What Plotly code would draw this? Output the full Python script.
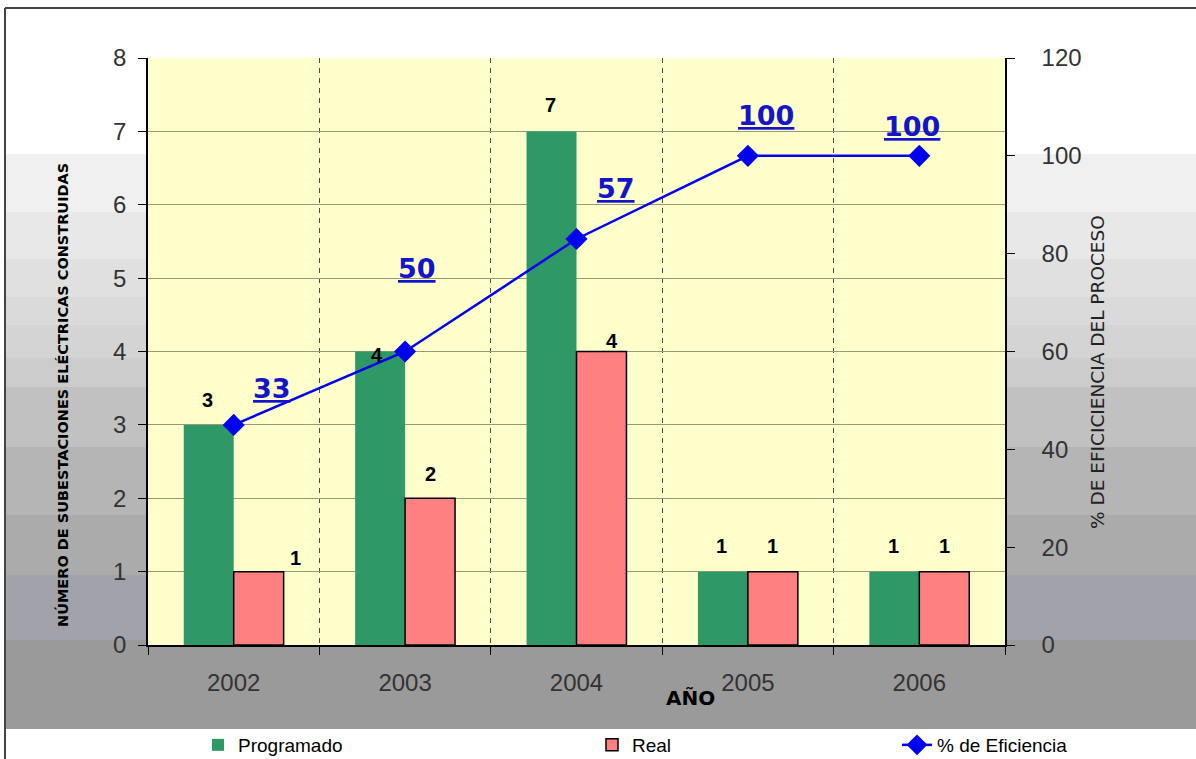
import plotly.graph_objects as go

# ---------------- data ----------------
years = ["2002", "2003", "2004", "2005", "2006"]
programado = [3, 4, 7, 1, 1]
real = [1, 2, 4, 1, 1]
eficiencia_plot = [45, 60, 83, 100, 100]          # plotted position of the line (right axis)
eficiencia_labels = ["33", "50", "57", "100", "100"]  # labels printed next to the points
left_ticks = [0, 1, 2, 3, 4, 5, 6, 7, 8]
right_ticks = [0, 20, 40, 60, 80, 100, 120]

# ---------------- layout helpers (positions/styles) ----------------
W, H = 1196, 759
L, R, T, B = 148, 191, 58, 114
PW, PH = W - L - R, H - T - B


def px(xp):
    return (xp - L) / PW


def py(yp):
    return (H - B - yp) / PH


GREEN = "#2E9966"
RED = "#FF8080"
BLUE = "#0000F0"
LBLUE = "#1414C8"
FONT = "Liberation Sans, Arial, sans-serif"
WIDEFONT = "DejaVu Sans, sans-serif"

# label placement (right-axis units / pixel shifts)
eff_label_y = [52.5, 77, 93.4, 108.3, 106]
eff_label_dx = [38, 12, 39, 18, -7]
green_dx = [0, -2, 0, 0, 0]
green_dy = [25, -3, 26, 26, 26]
red_dx = [37, 0, 10, 0, 0]
red_dy = [14, 24, 11, 26, 26]

fig = go.Figure()

fig.add_trace(go.Bar(
    x=years, y=programado, name="Programado",
    marker=dict(color=GREEN, line=dict(color=GREEN, width=0)),
    legend="legend", yaxis="y",
))
fig.add_trace(go.Bar(
    x=years, y=real, name="Real",
    marker=dict(color=RED, line=dict(color="black", width=1.5)),
    legend="legend2", yaxis="y",
))
fig.add_trace(go.Scatter(
    x=years, y=eficiencia_plot, name="% de Eficiencia",
    mode="lines+markers", yaxis="y2",
    line=dict(color=BLUE, width=2.5),
    marker=dict(symbol="diamond", size=17, color=BLUE),
    legend="legend3", cliponaxis=False,
))

# ---------------- background shapes ----------------
shapes = []
bands = [
    (154, 212, "#f0f0f0"), (212, 259, "#e8e8e8"), (259, 297, "#e0e0e0"),
    (297, 325, "#dadada"), (325, 358, "#d4d4d4"), (358, 387, "#cccccc"),
    (387, 447, "#c1c1c1"), (447, 515, "#b5b5b5"), (515, 575, "#ababab"),
    (575, 640, "#a2a2aa"), (640, 729, "#9a9a9a"),
]
for y0, y1, c in bands:
    shapes.append(dict(type="rect", xref="paper", yref="paper",
                       x0=px(6), x1=px(W + 2), y0=py(y1), y1=py(y0),
                       fillcolor=c, line=dict(width=0), layer="below"))
# plot area fill
shapes.append(dict(type="rect", xref="paper", yref="paper", x0=0, x1=1, y0=0, y1=1,
                   fillcolor="#FFFFCC", line=dict(width=0), layer="below"))
# legend white strip
shapes.append(dict(type="rect", xref="paper", yref="paper",
                   x0=px(77), x1=px(W + 2), y0=py(H + 2), y1=py(729),
                   fillcolor="white", line=dict(width=0), layer="below"))
# outer frame lines
shapes.append(dict(type="line", xref="paper", yref="paper",
                   x0=px(5), x1=px(5), y0=py(8), y1=py(H + 2),
                   line=dict(color="#444444", width=2), layer="below"))
shapes.append(dict(type="line", xref="paper", yref="paper",
                   x0=px(5), x1=px(W + 2), y0=py(8), y1=py(8),
                   line=dict(color="#444444", width=2), layer="below"))

# ---------------- annotations ----------------
ann = []
for i, yr in enumerate(years):
    # category axes: annotation x given as category index
    ann.append(dict(x=i, y=eff_label_y[i], xref="x", yref="y2",
                    text="<u>" + eficiencia_labels[i] + "</u>", showarrow=False,
                    xshift=eff_label_dx[i],
                    font=dict(family=WIDEFONT, size=27, color=LBLUE, weight="bold")))
    ann.append(dict(x=i, y=programado[i], xref="x", yref="y",
                    text=str(programado[i]), showarrow=False,
                    xshift=-26 + green_dx[i], yshift=green_dy[i],
                    font=dict(family=FONT, size=20, color="black", weight="bold")))
    ann.append(dict(x=i, y=real[i], xref="x", yref="y",
                    text=str(real[i]), showarrow=False,
                    xshift=25 + red_dx[i], yshift=red_dy[i],
                    font=dict(family=FONT, size=20, color="black", weight="bold")))

ann.append(dict(x=px(690), y=py(698), xref="paper", yref="paper", text="AÑO",
                xanchor="center", yanchor="middle",
                showarrow=False, font=dict(family=WIDEFONT, size=20, color="black", weight="bold")))
ann.append(dict(x=px(62), y=py(395), xref="paper", yref="paper",
                text="NÚMERO DE SUBESTACIONES ELÉCTRICAS CONSTRUIDAS", textangle=-90,
                xanchor="center", yanchor="middle",
                showarrow=False, font=dict(family=WIDEFONT, size=14.5, color="black", weight="bold")))
ann.append(dict(x=px(1097), y=py(372), xref="paper", yref="paper",
                text="% DE EFICICIENCIA DEL PROCESO", textangle=-90,
                xanchor="center", yanchor="middle",
                showarrow=False, font=dict(family=WIDEFONT, size=18.5, color="#222222")))

legend_common = dict(orientation="h", yanchor="middle", xanchor="left",
                     y=py(745), bgcolor="rgba(0,0,0,0)",
                     font=dict(family=FONT, size=19, color="black"))

fig.update_layout(
    width=W, height=H,
    margin=dict(l=L, r=R, t=T, b=B, autoexpand=False),
    paper_bgcolor="white", plot_bgcolor="rgba(0,0,0,0)",
    barmode="group", bargap=0.417, bargroupgap=0,
    font=dict(family=FONT),
    shapes=shapes, annotations=ann, showlegend=True,
    legend=dict(x=px(198), **legend_common),
    legend2=dict(x=px(592), **legend_common),
    legend3=dict(x=px(897), **legend_common),
    xaxis=dict(type="category", categoryorder="array", categoryarray=years,
               range=[-0.5, len(years) - 0.5], autorange=False,
               tickson="boundaries", ticks="outside", ticklen=8,
               tickcolor="black", showgrid=True, gridcolor="#4a4a4a", griddash="5px,5px",
               gridwidth=1, showline=True, linecolor="black", linewidth=1.5,
               tickfont=dict(family=FONT, size=24, color="#333333"), tickangle=0,
               ticklabelstandoff=15, fixedrange=True),
    yaxis=dict(range=[0, 8], autorange=False, tickvals=left_ticks, ticks="outside", ticklen=8,
               tickcolor="black", showgrid=True, gridcolor="#999977", gridwidth=1,
               showline=True, linecolor="black", linewidth=1.5, zeroline=False,
               tickfont=dict(family=FONT, size=24, color="#333333"),
               ticklabelstandoff=7),
    yaxis2=dict(range=[0, 120], autorange=False, tickvals=right_ticks, overlaying="y", side="right",
                ticks="outside", ticklen=8, tickcolor="black", showgrid=False,
                showline=True, linecolor="black", linewidth=1.5, zeroline=False,
                tickfont=dict(family=FONT, size=24, color="#333333"),
                ticklabelstandoff=22),
)

fig.write_html("out.html")
